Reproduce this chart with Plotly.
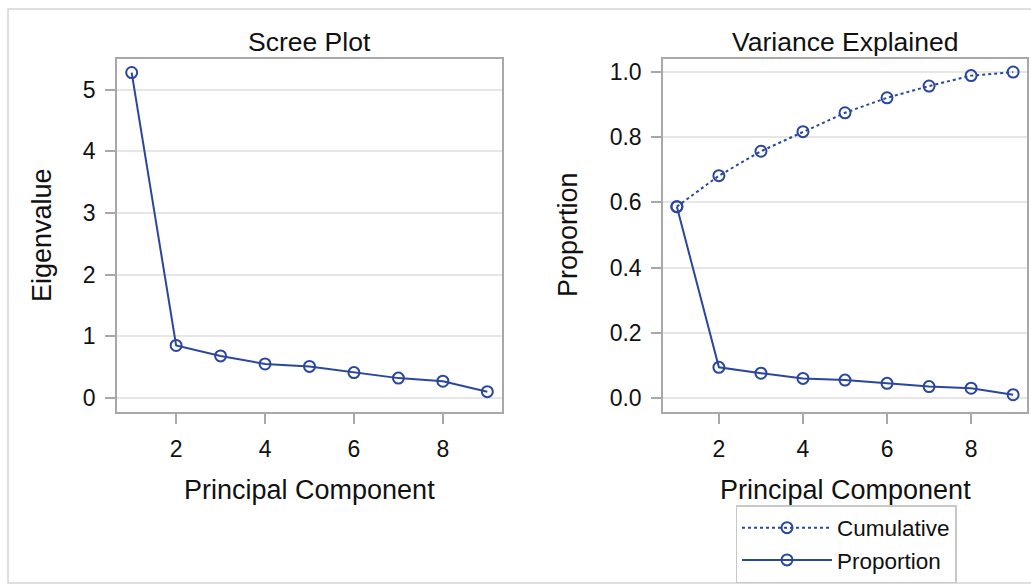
import plotly.graph_objects as go

components = [1, 2, 3, 4, 5, 6, 7, 8, 9]
eigenvalues = [5.28, 0.85, 0.68, 0.55, 0.51, 0.41, 0.32, 0.27, 0.10]
proportion = [0.587, 0.094, 0.076, 0.060, 0.055, 0.045, 0.035, 0.030, 0.010]
cumulative = [0.587, 0.682, 0.757, 0.817, 0.875, 0.921, 0.957, 0.989, 1.000]
x_ticks = [2, 4, 6, 8]
eig_ticks = [0, 1, 2, 3, 4, 5]
prop_ticks = [0.0, 0.2, 0.4, 0.6, 0.8, 1.0]

W, H = 1031, 586
FONT = "Liberation Sans, Arial, sans-serif"
BLUE = "#2A469E"
FRAME = "#a8a8a8"
GRID = "#e6e6e6"
TXT = "#111111"

def fx(p):
    return p / W

def fy(p):
    return 1 - p / H

marker = dict(symbol="circle-open", size=11, color=BLUE, line=dict(width=2, color=BLUE))

fig = go.Figure()
fig.add_trace(go.Scatter(x=components, y=eigenvalues, mode="lines+markers",
                         line=dict(color=BLUE, width=2), marker=marker,
                         showlegend=False, xaxis="x", yaxis="y"))
fig.add_trace(go.Scatter(x=components, y=cumulative, mode="lines+markers", name="Cumulative",
                         line=dict(color=BLUE, width=2, dash="dot"), marker=marker,
                         xaxis="x2", yaxis="y2"))
fig.add_trace(go.Scatter(x=components, y=proportion, mode="lines+markers", name="Proportion",
                         line=dict(color=BLUE, width=2), marker=marker,
                         xaxis="x2", yaxis="y2"))

axis_common = dict(showline=True, mirror=True, linecolor=FRAME, linewidth=1.5,
                   ticks="outside", ticklen=10, tickwidth=1.5, tickcolor=FRAME,
                   zeroline=False, tickfont=dict(family=FONT, size=23, color=TXT))

fig.update_layout(
    width=W, height=H,
    margin=dict(l=0, r=0, t=0, b=0),
    paper_bgcolor="white", plot_bgcolor="white",
    font=dict(family=FONT, color=TXT),
    xaxis=dict(domain=[fx(117), fx(502)], range=[0.67, 9.33], tickvals=x_ticks,
               showgrid=False, anchor="y", ticklabelstandoff=6, **axis_common),
    yaxis=dict(domain=[fy(412), fy(59)], range=[-0.23, 5.5], tickvals=eig_ticks,
               showgrid=True, gridcolor=GRID, gridwidth=1.5, anchor="x",
               ticklabelstandoff=5, **axis_common),
    xaxis2=dict(domain=[fx(663), fx(1027)], range=[0.67, 9.33], tickvals=x_ticks,
                showgrid=False, anchor="y2", ticklabelstandoff=6, **axis_common),
    yaxis2=dict(domain=[fy(412), fy(59)], range=[-0.043, 1.04], tickvals=prop_ticks,
                tickformat=".1f", showgrid=True, gridcolor=GRID, gridwidth=1.5,
                anchor="x2", ticklabelstandoff=5, **axis_common),
    legend=dict(x=fx(846), y=fy(544), xanchor="center", yanchor="middle",
                bgcolor="white", bordercolor="#c8c8c8", borderwidth=1.5,
                font=dict(family=FONT, size=22.5, color=TXT), itemwidth=90,
                tracegroupgap=0),
    showlegend=True,
)

ann = dict(xref="paper", yref="paper", showarrow=False, xanchor="center", yanchor="middle")
title_font = dict(family=FONT, size=26.5, color=TXT)
axis_font = dict(family=FONT, size=27, color=TXT)
fig.add_annotation(text="Scree Plot", x=fx(309.5), y=fy(42), font=title_font, **ann)
fig.add_annotation(text="Variance Explained", x=fx(845), y=fy(42), font=title_font, **ann)
fig.add_annotation(text="Principal Component", x=fx(309.5), y=fy(490), font=axis_font, **ann)
fig.add_annotation(text="Principal Component", x=fx(845), y=fy(490), font=axis_font, **ann)
fig.add_annotation(text="Eigenvalue", x=fx(42), y=fy(235), textangle=-90, font=axis_font, **ann)
fig.add_annotation(text="Proportion", x=fx(568), y=fy(235), textangle=-90, font=axis_font, **ann)

fig.add_shape(type="rect", xref="paper", yref="paper",
              x0=fx(8), x1=fx(1045), y0=fy(583), y1=fy(9),
              line=dict(color="#d4d4d4", width=1.5), layer="below")

fig.write_html("out.html")
